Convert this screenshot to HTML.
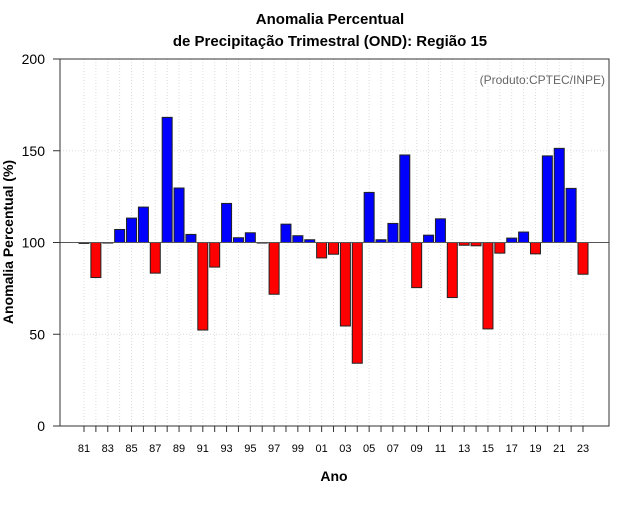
<!DOCTYPE html>
<html><head><meta charset="utf-8"><style>
body{margin:0;background:#fff;font-family:"Liberation Sans",sans-serif;}
svg text{font-family:"Liberation Sans",sans-serif;}
</style></head><body>
<svg id="chart" width="640" height="500" viewBox="0 0 640 500" xmlns="http://www.w3.org/2000/svg">
<text x="330" y="24" text-anchor="middle" font-size="15" font-weight="bold">Anomalia Percentual</text>
<text x="330" y="46" text-anchor="middle" font-size="15" font-weight="bold">de Precipitação Trimestral (OND): Região 15</text>
<g id="grid"></g>
<g id="bars"></g>
<g id="axes"></g>
<rect x="60" y="59" width="549" height="367" fill="none" stroke="#333" stroke-width="1"/>
<text x="605" y="84" text-anchor="end" font-size="12" fill="#666">(Produto:CPTEC/INPE)</text>
<text x="334" y="481" text-anchor="middle" font-size="14" font-weight="bold">Ano</text>
<text transform="translate(13,242) rotate(-90)" text-anchor="middle" font-size="14" font-weight="bold">Anomalia Percentual (%)</text>
</svg>
<script>
const years = [1981,1982,1983,1984,1985,1986,1987,1988,1989,1990,1991,1992,1993,1994,1995,1996,1997,1998,1999,2000,2001,2002,2003,2004,2005,2006,2007,2008,2009,2010,2011,2012,2013,2014,2015,2016,2017,2018,2019,2020,2021,2022,2023];
const values = [99.5,80.9,99.7,107.1,113.3,119.3,83.3,168.2,129.7,104.4,52.3,86.6,121.3,102.6,105.3,99.7,71.8,110,103.7,101.5,91.6,93.6,54.5,34.2,127.3,101.5,110.4,147.7,75.4,104,112.9,70,98.5,98.2,52.9,94.2,102.4,105.7,93.8,147.2,151.3,129.5,82.7];
const yTicks = [0,50,100,150,200];
const baseline = 100;
const NS="http://www.w3.org/2000/svg";
const x0=84, dx=(583-84)/42;
function xPos(yr){return x0+(yr-1981)*dx;}
function yPos(v){return 426-v*(367/200);}
function mk(tag,attrs,parent){const e=document.createElementNS(NS,tag);for(const k in attrs)e.setAttribute(k,attrs[k]);parent.appendChild(e);return e;}
const grid=document.getElementById('grid'),bars=document.getElementById('bars'),axes=document.getElementById('axes');
years.forEach(yr=>{
  const l=mk('line',{x1:xPos(yr),x2:xPos(yr),y1:59,y2:426,stroke:'#ddd','stroke-dasharray':'1,2'},grid);
  
  
  const t=mk('line',{x1:xPos(yr),x2:xPos(yr),y1:426,y2:432,stroke:'#333'},axes);
  
  
  if(yr%2===1){
    const tx=mk('text',{x:xPos(yr),y:452,'text-anchor':'middle','font-size':'11'},axes);
    tx.textContent=String(yr%100).padStart(2,'0');
    
    
  }
});
yTicks.forEach(v=>{
  if(v>0&&v<200){
    const g=mk('line',{x1:60,x2:609,y1:yPos(v),y2:yPos(v),stroke:'#ddd','stroke-dasharray':'1,2'},grid);
    
    
  }
  const t=mk('line',{x1:53,x2:60,y1:yPos(v),y2:yPos(v),stroke:'#333'},axes);
  
  
  const tx=mk('text',{x:45,y:yPos(v)+5,'text-anchor':'end','font-size':'14'},axes);
  tx.textContent=v;
  
  
});
values.forEach((v,i)=>{
  const yb=yPos(baseline), yv=yPos(v);
  const r=mk('rect',{x:xPos(years[i])-5,y:Math.min(yb,yv),width:10,height:Math.max(Math.abs(yb-yv),0.5),fill:v>=baseline?'#0000ff':'#ff0000',stroke:'#222','stroke-width':1},bars);
  
  
});
const bl=mk('line',{x1:60,x2:609,y1:yPos(baseline),y2:yPos(baseline),stroke:'#555','stroke-width':1},bars);


</script>
</body></html>
